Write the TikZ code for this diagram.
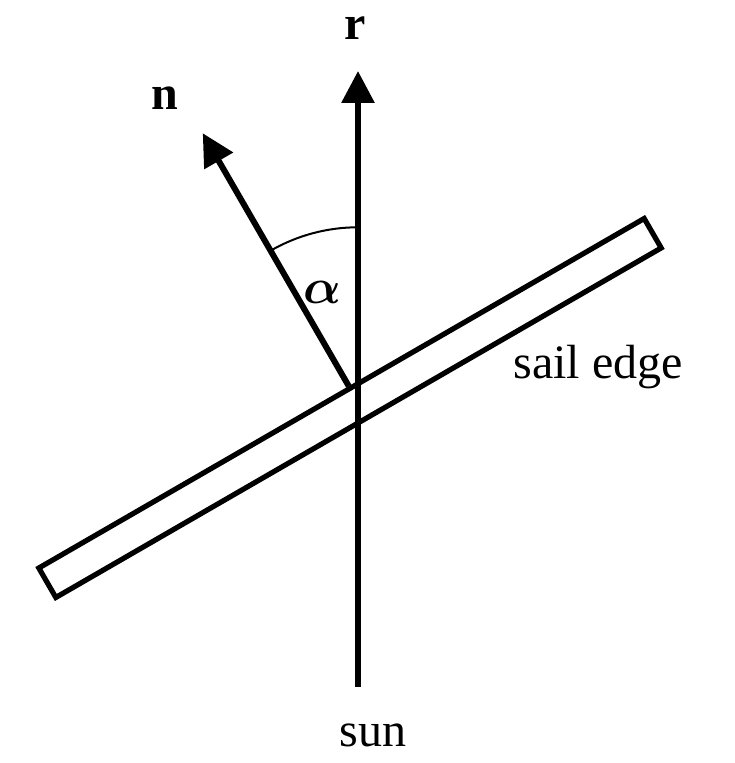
\documentclass[tikz,border=0pt]{standalone}
\usepackage{fontspec}
\setmainfont{Liberation Serif}
\usetikzlibrary{positioning, arrows.meta, calc}

\begin{document}
\begin{tikzpicture}[
        x=0.5pt, y=0.5pt,
        % ----- styles -----
        >={Triangle[width=16pt, length=16pt]},
        vec/.style={->, line width=3pt},
        sailbox/.style={draw, line width=2.6pt, rotate=30, inner sep=0pt,
            minimum width=349.5pt, minimum height=17pt},
        lbl/.style={font=\fontsize{24}{28}\selectfont, inner sep=1pt},
        anglearc/.style={line width=1pt}
    ]
    \useasboundingbox (0,0) rectangle (734,763);

    % sail seen edge-on
    \node[sailbox] (sail) at (350,355) {};
    \coordinate (nbase) at ($(sail.north)!0.028!(sail.north east)$);
    \coordinate (ntip) at ($(nbase)+(120:146pt)$);
    \coordinate (rtail) at (358,76);
    \coordinate (rtip) at (358,692);
    \coordinate (O) at (358,360.7);

    % ----- labels -----
    \node[lbl] (r) at (355,735) {\textbf{r}};
    \node[lbl] (n) at (165,665) {\textbf{n}};
    \node[lbl, font=\fontsize{25}{30}\selectfont\boldmath] (alpha) at (322,471) {$\alpha$};
    \node[lbl] (edge) at (598,396) {sail edge};
    \node[lbl] (sun) at (373,28) {sun};

    % ----- vectors -----
    \draw[vec] (rtail) -- (rtip);
    \draw[vec] (nbase) -- (ntip);
    \draw[anglearc] ($(O)+(90:87.5pt)$) arc (90:120:87.5pt);
\end{tikzpicture}
\end{document}
